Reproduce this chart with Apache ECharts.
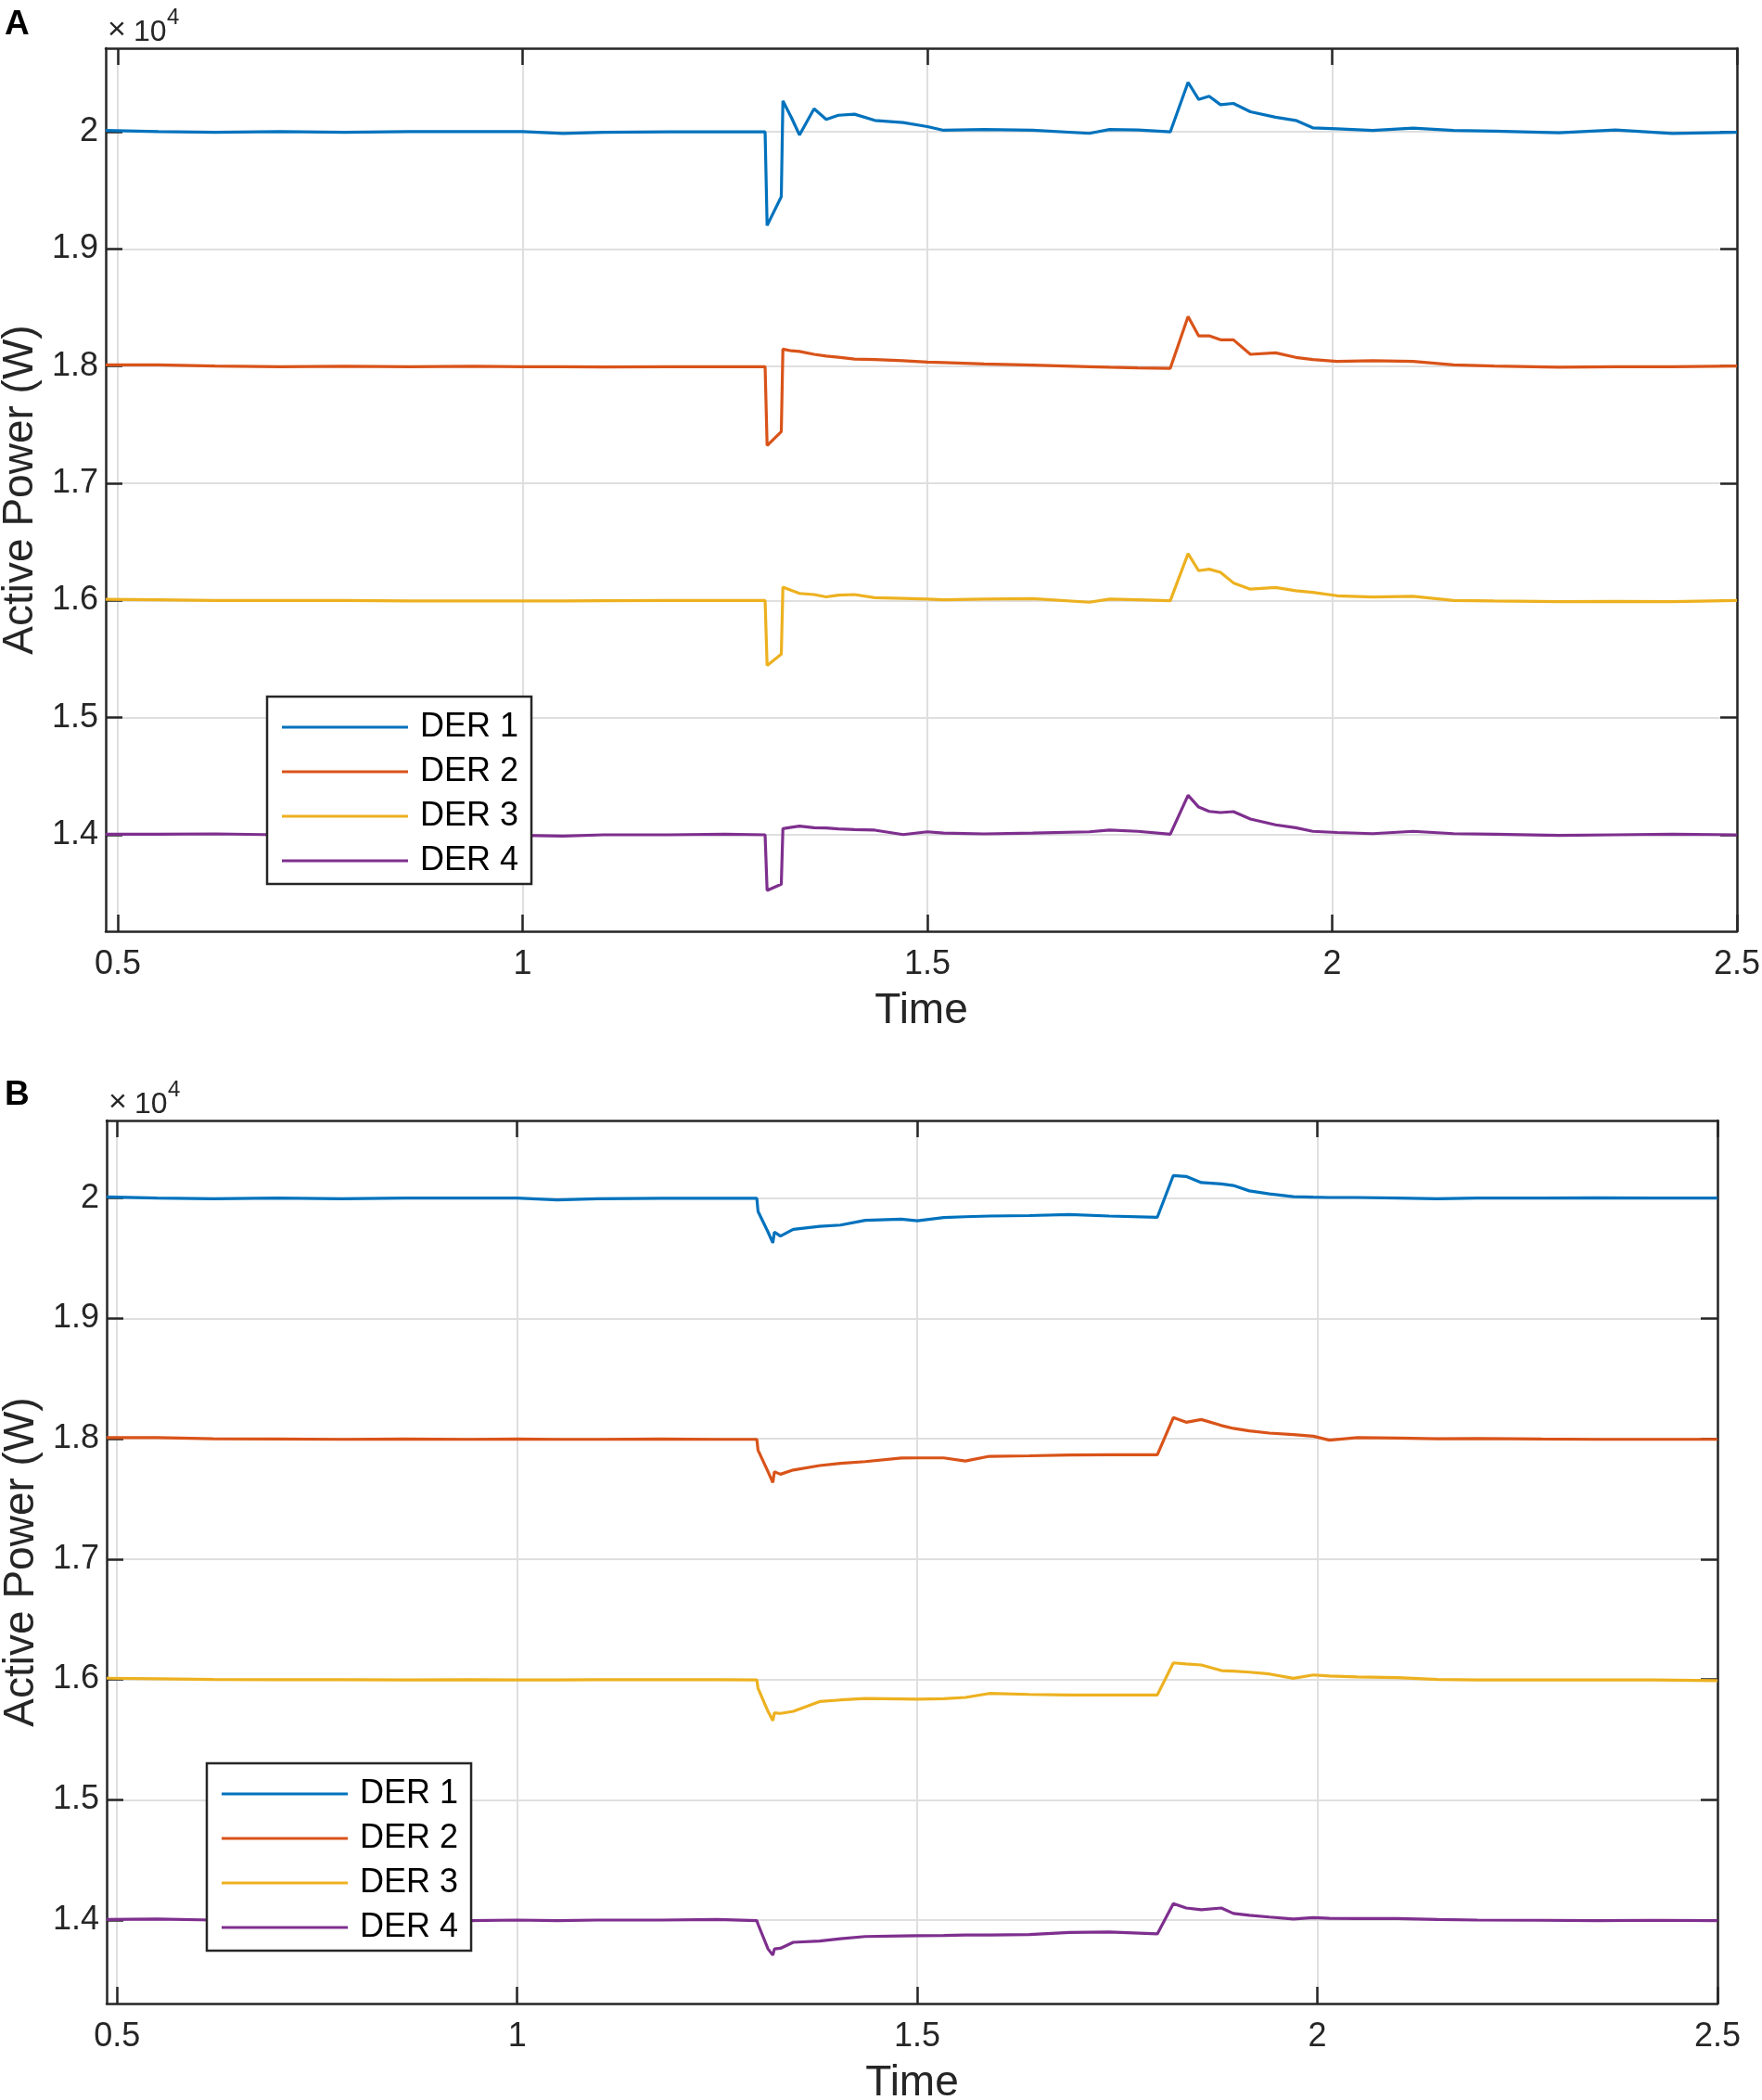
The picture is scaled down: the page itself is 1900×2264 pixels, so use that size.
<!DOCTYPE html>
<html>
<head>
<meta charset="utf-8">
<title>DER active power</title>
<script src="https://cdn.jsdelivr.net/npm/echarts@6/dist/echarts.min.js"></script>
<style>
  html, body { margin: 0; padding: 0; background: #fff; }
  #main { width: 1900px; height: 2264px; }
</style>
</head>
<body>
<div id="main"></div>
<script>
// time samples (s) for the two panels
const timeA = [0.485, 0.55, 0.62, 0.70, 0.78, 0.86, 0.94, 1.00, 1.05, 1.10, 1.18, 1.25, 1.2995, 1.302, 1.3195, 1.3215, 1.332, 1.342, 1.36, 1.375, 1.39, 1.41, 1.435, 1.47, 1.50, 1.52, 1.57, 1.63, 1.70, 1.725, 1.76, 1.80, 1.822, 1.835, 1.848, 1.862, 1.878, 1.899, 1.93, 1.955, 1.976, 2.006, 2.05, 2.10, 2.15, 2.20, 2.28, 2.35, 2.42, 2.50];
const timeB = [0.487, 0.55, 0.62, 0.70, 0.78, 0.86, 0.94, 1.00, 1.05, 1.10, 1.18, 1.25, 1.2995, 1.301, 1.3135, 1.3195, 1.3215, 1.329, 1.345, 1.378, 1.404, 1.435, 1.48, 1.50, 1.533, 1.56, 1.59, 1.64, 1.69, 1.74, 1.80, 1.82, 1.836, 1.855, 1.88, 1.895, 1.915, 1.94, 1.97, 1.995, 2.015, 2.05, 2.10, 2.15, 2.20, 2.28, 2.35, 2.42, 2.50];

// panel A, active power (W)
const der1A = [20010, 20000, 19995, 20000, 19995, 20000, 20000, 20000, 19985, 19995, 19998, 19998, 19998, 19199, 19445, 20263, 20120, 19972, 20196, 20104, 20140, 20149, 20096, 20078, 20043, 20012, 20018, 20012, 19986, 20018, 20015, 19998, 20421, 20275, 20302, 20230, 20241, 20170, 20123, 20096, 20033, 20025, 20010, 20030, 20010, 20005, 19990, 20015, 19985, 19995];
const der2A = [18010, 18010, 18000, 17995, 17998, 17995, 17998, 17995, 17995, 17992, 17995, 17995, 17995, 17322, 17441, 18145, 18130, 18125, 18100, 18085, 18075, 18060, 18055, 18045, 18034, 18030, 18018, 18008, 17995, 17990, 17985, 17981, 18422, 18258, 18258, 18224, 18224, 18100, 18113, 18074, 18055, 18040, 18045, 18040, 18010, 18000, 17990, 17995, 17995, 18000];
const der3A = [16010, 16005, 16000, 16000, 16000, 15995, 15995, 15995, 15995, 15998, 16000, 16000, 16000, 15445, 15542, 16114, 16085, 16060, 16050, 16030, 16045, 16050, 16024, 16018, 16011, 16005, 16011, 16015, 15985, 16011, 16005, 15998, 16399, 16254, 16267, 16240, 16150, 16096, 16110, 16083, 16069, 16040, 16030, 16035, 16000, 15995, 15990, 15992, 15990, 16000];
const der4A = [14005, 14005, 14008, 14000, 14000, 13995, 14000, 13995, 13990, 14000, 14000, 14005, 14000, 13525, 13578, 14053, 14065, 14074, 14060, 14058, 14050, 14045, 14040, 14002, 14026, 14015, 14008, 14015, 14026, 14040, 14030, 14005, 14338, 14237, 14200, 14190, 14198, 14135, 14085, 14060, 14030, 14020, 14010, 14030, 14010, 14005, 13995, 14000, 14005, 14000];

// panel B, active power (W)
const der1B = [20010, 20000, 19995, 20000, 19995, 20000, 20000, 20000, 19985, 19995, 19998, 19998, 19998, 19890, 19718, 19628, 19718, 19684, 19740, 19765, 19776, 19815, 19825, 19812, 19838, 19845, 19851, 19855, 19864, 19851, 19841, 20188, 20180, 20129, 20118, 20105, 20060, 20035, 20012, 20008, 20005, 20005, 20000, 19995, 20000, 20000, 20002, 20000, 20000];
const der2B = [18010, 18010, 18000, 17998, 17995, 17998, 17995, 17998, 17995, 17995, 17998, 17995, 17995, 17906, 17726, 17636, 17726, 17705, 17740, 17777, 17795, 17810, 17840, 17841, 17841, 17815, 17854, 17858, 17865, 17867, 17867, 18176, 18137, 18160, 18110, 18086, 18065, 18047, 18035, 18021, 17988, 18010, 18005, 18000, 18002, 17998, 17995, 17995, 17995];
const der3B = [16010, 16005, 16000, 15998, 15998, 15995, 15998, 15995, 15995, 15998, 15998, 15998, 15995, 15927, 15734, 15657, 15722, 15717, 15734, 15816, 15829, 15842, 15838, 15836, 15840, 15850, 15883, 15875, 15870, 15870, 15870, 16137, 16128, 16120, 16073, 16068, 16060, 16045, 16009, 16037, 16028, 16020, 16015, 16000, 15995, 15995, 15995, 15995, 15990];
const der4B = [14005, 14008, 14000, 14000, 13998, 14000, 13995, 14000, 13995, 14000, 14000, 14005, 13995, 13965, 13760, 13708, 13760, 13765, 13815, 13825, 13845, 13863, 13868, 13870, 13872, 13875, 13876, 13880, 13896, 13901, 13885, 14137, 14100, 14086, 14100, 14055, 14040, 14025, 14008, 14020, 14015, 14012, 14012, 14005, 14000, 13998, 13995, 13998, 13995];

const names = ['DER 1', 'DER 2', 'DER 3', 'DER 4'];
const colors = ['#0072BD', '#D95319', '#EDB120', '#7E2F8E'];
const xTicks = [0.5, 1, 1.5, 2, 2.5];
const yTicks = [14000, 15000, 16000, 17000, 18000, 19000, 20000];

const FONT = '"Liberation Sans", Arial, sans-serif';
const INK = '#262626';

// axis ranges per panel
const xRange = [[0.485, 2.5], [0.487, 2.5]];
const yRange = [[13177, 20712], [13306, 20645]];

function xAxes(g) {
  const base = {
    type: 'value', gridIndex: g, min: xRange[g][0], max: xRange[g][1],
    axisLine: { show: true, onZero: false, lineStyle: { color: INK, width: 2.5 } },
    axisTick: { show: true, inside: true, length: 18, customValues: xTicks, lineStyle: { color: INK, width: 2.5 } }
  };
  return [
    Object.assign({}, base, {
      position: 'bottom',
      axisLabel: { customValues: xTicks, fontSize: 36, color: INK, fontFamily: FONT, margin: 18 },
      splitLine: { show: true, lineStyle: { color: '#dfdfdf', width: 2 } },
      name: 'Time', nameLocation: 'middle', nameGap: 63,
      nameTextStyle: { fontSize: 46, color: INK, fontFamily: FONT }
    }),
    Object.assign({}, base, { position: 'top', axisLabel: { show: false }, splitLine: { show: false } })
  ];
}

function yAxes(g) {
  const base = {
    type: 'value', gridIndex: g, min: yRange[g][0], max: yRange[g][1],
    axisLine: { show: true, onZero: false, lineStyle: { color: INK, width: 2.5 } },
    axisTick: { show: true, inside: true, length: 18, customValues: yTicks, lineStyle: { color: INK, width: 2.5 } }
  };
  return [
    Object.assign({}, base, {
      position: 'left',
      axisLabel: {
        customValues: yTicks, fontSize: 36, color: INK, fontFamily: FONT, margin: 8,
        formatter: v => String(+(v / 10000).toFixed(1))
      },
      splitLine: { show: true, lineStyle: { color: '#dfdfdf', width: 2 } },
      name: 'Active Power (W)', nameLocation: 'middle', nameGap: 68, nameRotate: 90,
      nameTextStyle: { fontSize: 46, color: INK, fontFamily: FONT }
    }),
    Object.assign({}, base, { position: 'right', axisLabel: { show: false }, splitLine: { show: false } })
  ];
}

function lines(g, t, sets) {
  return sets.map((vals, i) => ({
    name: names[i], type: 'line', xAxisIndex: g * 2, yAxisIndex: g * 2,
    data: t.map((x, k) => [x, vals[k]]),
    showSymbol: false, symbol: 'none', animation: false,
    color: colors[i],
    lineStyle: { color: colors[i], width: 3.2 }
  }));
}

function legend(left, top) {
  return {
    orient: 'vertical', left: left, top: top, data: names,
    icon: 'rect', backgroundColor: '#fff', borderColor: INK, borderWidth: 2.5, borderRadius: 0,
    padding: [15, 14, 7, 16], itemWidth: 136, itemHeight: 3, itemGap: 12,
    textStyle: { fontSize: 36, color: '#000', fontFamily: FONT, padding: [0, 0, 0, 8] },
    selectedMode: false
  };
}

function tag(x, y, text, size, bold) {
  return { type: 'text', left: x, top: y, style: { text: text, fontSize: size, fontWeight: bold ? 'bold' : 'normal', fontFamily: FONT, fill: bold ? '#000' : INK } };
}

const chart = echarts.init(document.getElementById('main'), null, { renderer: 'canvas' });
chart.setOption({
  backgroundColor: '#fff',
  animation: false,
  grid: [
    { left: 114, top: 52, width: 1759, height: 952, containLabel: false, outerBoundsMode: 'none' },
    { left: 115, top: 1208, width: 1737, height: 952, containLabel: false, outerBoundsMode: 'none' }
  ],
  xAxis: xAxes(0).concat(xAxes(1)),
  yAxis: yAxes(0).concat(yAxes(1)),
  legend: [legend(288, 751), legend(223, 1901)],
  series: lines(0, timeA, [der1A, der2A, der3A, der4A]).concat(lines(1, timeB, [der1B, der2B, der3B, der4B])),
  graphic: [
    tag(5, 8, 'A', 37, true),
    tag(116, 16, '×', 34, false),
    tag(144, 19, '10', 32, false),
    tag(180, 7, '4', 24, false),
    tag(5, 1162, 'B', 37, true),
    tag(117, 1172, '×', 34, false),
    tag(145, 1175, '10', 32, false),
    tag(181, 1163, '4', 24, false)
  ]
});
</script>
</body>
</html>
